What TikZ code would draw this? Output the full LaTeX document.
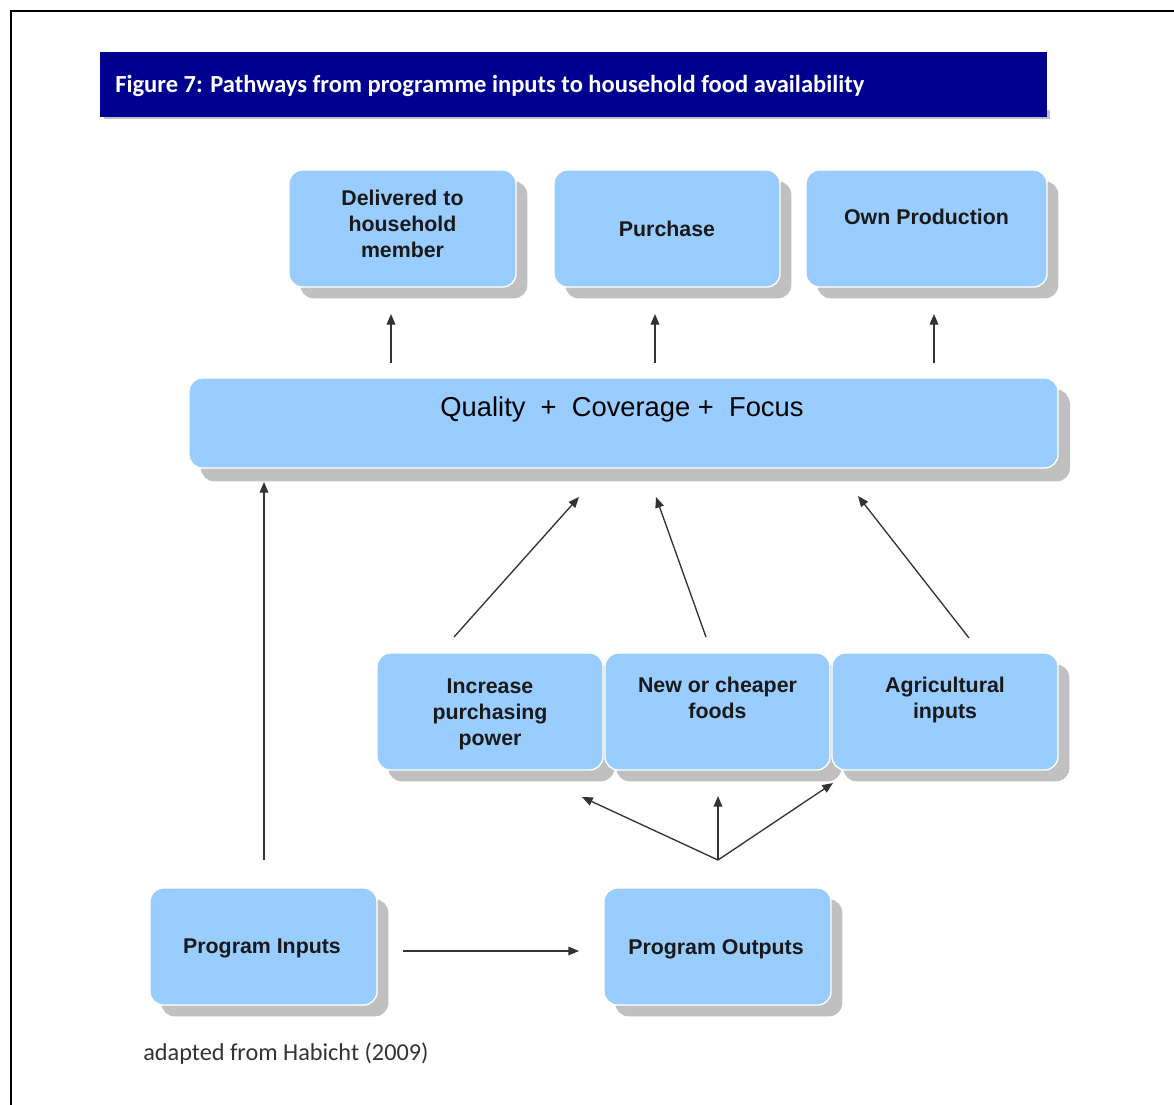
\documentclass[tikz,border=0pt]{standalone}
\usepackage{fontspec}
\setmainfont{Liberation Sans}
\newfontfamily\calib{Carlito}
\usetikzlibrary{shadows,arrows.meta}
\definecolor{boxblue}{HTML}{99CCFF}
\definecolor{titleblue}{HTML}{000090}
\definecolor{shadowgray}{HTML}{C0C0C0}
\definecolor{arrowgray}{HTML}{333333}
\begin{document}
\begin{tikzpicture}[x=0.75pt,y=-0.75pt,
  box/.style={rounded corners=10pt, fill=boxblue, draw=white, line width=1pt, inner sep=0pt,
    drop shadow={shadow xshift=8.5pt, shadow yshift=-8.5pt, fill=shadowgray, opacity=1}},
  boxtext/.style={font=\bfseries\fontsize{16}{19.5}\selectfont, align=center, inner sep=0pt, anchor=north, text=black!90},
  arr/.style={draw=arrowgray, line width=1pt, -{Triangle[length=8pt,width=6.5pt]}}]
\useasboundingbox (0,0) rectangle (1174,1104);
\fill[white] (0,0) rectangle (1174,1104);
% frame
\draw[line width=2pt, black] (11,1120) -- (11,11) -- (1190,11);
% title
\fill[shadowgray] (104,110) rectangle (1050,119);
\node[fill=titleblue, minimum width=710pt, minimum height=48.75pt, inner sep=0pt, anchor=north west] (title) at (100,52) {};
\node[font=\calib\bfseries\fontsize{18.4}{20}\selectfont, text=white, anchor=west, inner sep=0pt] (titletext) at (115,86) {Figure 7: Pathways from programme inputs to household food availability};
% top boxes
\node[box, minimum width=170.25pt, minimum height=87.75pt] (deliv) at (402.5,228.5) {};
\node[boxtext] (delivt) at (402.5,190) {Delivered to\\household\\member};
\node[box, minimum width=169.5pt, minimum height=87.75pt] (purch) at (667,228.5) {};
\node[boxtext] (purcht) at (667,221) {Purchase};
\node[box, minimum width=180.75pt, minimum height=87.75pt] (own) at (926.5,228.5) {};
\node[boxtext] (ownt) at (926.5,209) {Own Production};
% quality bar
\node[box, minimum width=651.75pt, minimum height=67.5pt,
  drop shadow={shadow xshift=9pt, shadow yshift=-10pt, fill=shadowgray, opacity=1}] (qual) at (623.5,423) {};
\node[font=\fontsize{20.5}{24}\selectfont, inner sep=0pt, anchor=north] (qualt) at (622,396) {Quality\ \ +\ \ Coverage +\ \ Focus};
% middle boxes
\node[box, minimum width=169.5pt, minimum height=87.75pt] (incr) at (490,711.5) {};
\node[boxtext] (incrt) at (490,679) {Increase\\purchasing\\power};
\node[box, minimum width=168.75pt, minimum height=87.75pt] (newc) at (717.5,711.5) {};
\node[boxtext] (newct) at (717.5,677) {New or cheaper\\foods};
\node[box, minimum width=169.5pt, minimum height=87.75pt] (agri) at (945,711.5) {};
\node[boxtext] (agrit) at (945,677) {Agricultural\\inputs};
% bottom boxes
\node[box, minimum width=170.25pt, minimum height=87.75pt] (pin) at (263.5,946.5) {};
\node[boxtext] (pint) at (262,939) {Program Inputs};
\node[box, minimum width=170.25pt, minimum height=87.75pt] (pout) at (717.5,946.5) {};
\node[boxtext] (poutt) at (716,939) {Program Outputs};
% caption
\node[font=\calib\fontsize{18.2}{20}\selectfont, anchor=west, inner sep=0pt, text=black!80] (cap) at (143,1054) {adapted from Habicht (2009)};
% arrow coordinates
\coordinate (a1s) at (391,363); \coordinate (a1e) at (391,314);
\coordinate (a2s) at (655,363); \coordinate (a2e) at (655,314);
\coordinate (a3s) at (934,363); \coordinate (a3e) at (934,314);
\coordinate (a4s) at (264,860); \coordinate (a4e) at (264,482);
\coordinate (a5s) at (454,637); \coordinate (a5e) at (579,497);
\coordinate (a6s) at (706,637); \coordinate (a6e) at (656,497);
\coordinate (a7s) at (969,638); \coordinate (a7e) at (858,496);
\coordinate (fork) at (718,860);
\coordinate (f1) at (582,797); \coordinate (f2) at (718,796); \coordinate (f3) at (833,783);
\coordinate (a8s) at (403,951); \coordinate (a8e) at (579,951);
\draw[arr] (a1s) -- (a1e);
\draw[arr] (a2s) -- (a2e);
\draw[arr] (a3s) -- (a3e);
\draw[arr] (a4s) -- (a4e);
\draw[arr] (a5s) -- (a5e);
\draw[arr] (a6s) -- (a6e);
\draw[arr] (a7s) -- (a7e);
\draw[arr] (fork) -- (f1);
\draw[arr] (fork) -- (f2);
\draw[arr] (fork) -- (f3);
\draw[arr] (a8s) -- (a8e);
\end{tikzpicture}
\end{document}
